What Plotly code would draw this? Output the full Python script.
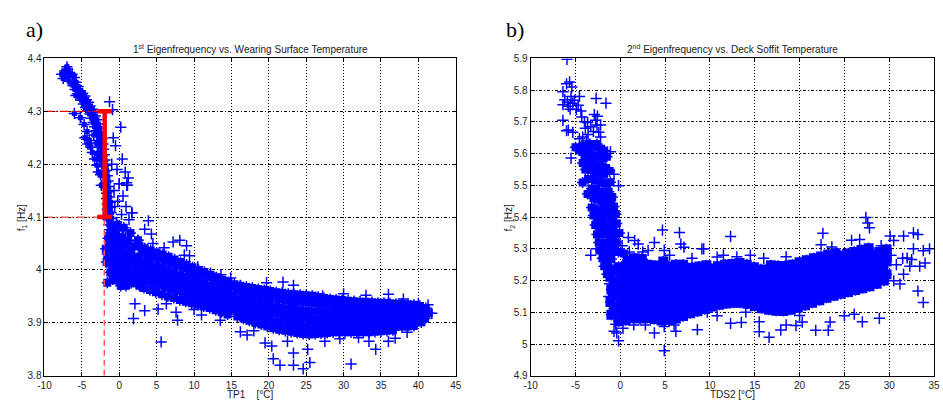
import plotly.graph_objects as go

# ---------------- data ----------------
# Panel a: 1st eigenfrequency f1 [Hz] vs. wearing surface temperature TP1 [°C]
a_branch = [(-7.7,4.370),(-7.3,4.376),(-6.9,4.380),(-6.6,4.372),(-7.1,4.366),(-7.5,4.362),(-6.3,4.370),(-6.0,4.364),
(-6.7,4.357),(-7.0,4.384),(-5.8,4.355),(-6.2,4.349),(-5.5,4.347),(-5.9,4.341),(-5.2,4.339),(-5.6,4.333),(-4.9,4.334),
(-5.3,4.327),(-4.6,4.329),(-5.0,4.321),(-4.4,4.322),(-4.8,4.314),(-4.1,4.317),(-4.5,4.307),(-3.9,4.310),(-4.2,4.301),
(-3.6,4.304),(-3.9,4.295),(-3.4,4.298),(-3.7,4.287),(-3.2,4.291),(-3.5,4.279),(-3.0,4.284),(-3.3,4.271),(-2.8,4.276),
(-3.1,4.263),(-2.6,4.268),(-2.9,4.255),(-2.5,4.258),(-2.7,4.245),(-2.3,4.248),(-2.6,4.235),(-2.2,4.238),(-2.4,4.225),
(-2.1,4.228),(-2.3,4.215),(-2.0,4.218),(-2.2,4.205),(-1.9,4.208),(-2.1,4.195),(-1.8,4.198),(-2.0,4.185),(-1.7,4.188),
(-1.9,4.175),(-1.6,4.178),(-1.8,4.165),(-1.5,4.168),(-1.8,4.155),(-1.5,4.158),(-1.7,4.145),(-1.4,4.148),(-1.7,4.135),
(-1.3,4.138),(-1.6,4.125),(-1.2,4.128),(-1.6,4.115),(-1.2,4.118),(-1.5,4.105),(-1.1,4.108),(-1.5,4.095),(-1.0,4.098),
(-1.4,4.085),(-0.9,4.088),(-1.3,4.076),
(-5.2,4.288),(-4.7,4.275),(-4.3,4.262),(-4.6,4.250),(-4.0,4.245),(-3.8,4.232),(-4.2,4.238),(-3.6,4.222),(-3.3,4.210),
(-3.0,4.198),(-2.8,4.185),(-2.9,4.220),(-6.0,4.296),(-5.8,4.330),(-3.4,4.255),(-3.0,4.240),(-2.6,4.210),(-2.5,4.180),
(-2.4,4.160)]

a_scatter = [(-1.3,4.318),(-0.9,4.303),(0.2,4.270),(-0.5,4.235),(0.4,4.210),(1.2,4.174),(1.1,4.160),(0.8,4.185),(0.5,4.140),
(1.7,4.108),(-0.3,4.190),(0.0,4.163),(1.0,4.165),(-0.8,4.250),(-1.0,4.200),(-0.7,4.150),(-0.6,4.120),(-0.2,4.130),
(0.3,4.105),(-0.4,4.090),(0.9,4.120),(1.3,4.095)]

a_mid = [(-1.2,4.070),(-0.8,4.075),(-0.4,4.068),(-1.5,4.060),(-1.0,4.055),(-0.5,4.050),(0.0,4.058),(0.4,4.062),
(-1.3,4.045),(-0.8,4.040),(-0.2,4.038),(0.3,4.042),(0.8,4.048),(1.2,4.055),(-1.6,4.030),(-1.1,4.025),(-0.5,4.022),
(0.1,4.025),(0.6,4.028),(1.1,4.032),(1.6,4.038),(-1.4,4.012),(-0.9,4.008),(-0.3,4.010),(0.3,4.012),(0.9,4.015),
(1.5,4.018),(2.1,4.022),(-1.2,3.995),(-0.6,3.993),(0.0,3.995),(0.6,3.998),(1.2,4.000),(1.8,4.003),(2.4,4.008),
(-0.9,3.982),(-0.3,3.980),(0.4,3.984),(1.0,3.985),(1.6,3.988),(2.2,3.990),(-0.2,4.085),(0.6,4.080),(1.5,4.070),
(2.0,4.045),(2.5,4.056),(1.9,4.025),(0.9,3.970),(1.6,3.975),(2.3,3.975),(0.2,3.970),(-1.8,4.040),(-1.7,4.015),
(-1.6,3.976)]

a_core = [
(2.7,4.046),(3.0,4.031),(2.5,4.019),(2.9,4.006),(2.6,3.995),(3.0,3.983),(2.7,3.970),
(3.4,4.041),(3.8,4.027),(3.3,4.015),(3.7,4.003),(3.4,3.990),(3.8,3.978),(3.3,3.966),
(4.2,4.037),(4.6,4.024),(4.1,4.012),(4.4,3.999),(4.2,3.987),(4.6,3.974),(4.1,3.962),
(5.0,4.033),(5.4,4.020),(4.9,4.008),(5.2,3.996),(5.0,3.984),(5.4,3.971),(4.9,3.958),
(5.8,4.029),(6.2,4.016),(5.7,4.004),(6.0,3.992),(5.8,3.980),(6.2,3.967),(5.7,3.954),
(6.6,4.025),(7.0,4.012),(6.5,4.000),(6.8,3.988),(6.6,3.976),(7.0,3.963),(6.5,3.950),
(7.4,4.020),(7.8,4.008),(7.3,3.996),(7.6,3.984),(7.4,3.972),(7.8,3.960),(7.3,3.947),
(8.2,4.015),(8.6,4.003),(8.1,3.991),(8.4,3.979),(8.2,3.967),(8.6,3.955),(8.1,3.943),
(9.0,4.010),(9.4,3.998),(8.9,3.987),(9.2,3.975),(9.0,3.963),(9.4,3.951),(8.9,3.940),
(9.8,4.005),(10.2,3.994),(9.7,3.983),(10.0,3.971),(9.8,3.959),(10.2,3.948),(9.7,3.937),
(10.6,4.000),(11.0,3.990),(10.5,3.979),(10.8,3.967),(10.6,3.956),(11.0,3.945),(10.5,3.934),
(11.4,3.996),(11.8,3.986),(11.3,3.975),(11.6,3.963),(11.4,3.952),(11.8,3.941),(11.3,3.931),
(12.2,3.991),(12.6,3.981),(12.1,3.970),(12.4,3.959),(12.2,3.948),(12.6,3.938),(12.1,3.928),
(13.0,3.986),(13.4,3.976),(12.9,3.966),(13.2,3.955),(13.0,3.944),(13.4,3.934),(12.9,3.924),
(13.8,3.981),(14.2,3.971),(13.7,3.961),(14.0,3.951),(13.8,3.940),(14.2,3.930),(13.7,3.920),
(14.6,3.977),(15.0,3.967),(14.5,3.957),(14.8,3.947),(14.6,3.936),(15.0,3.926),(14.5,3.916),
(15.4,3.973),(15.8,3.961),(15.3,3.949),(15.6,3.937),(15.4,3.925),(15.8,3.912),
(16.2,3.970),(16.6,3.958),(16.1,3.946),(16.4,3.934),(16.2,3.921),(16.6,3.908),
(17.0,3.968),(17.4,3.955),(16.9,3.943),(17.2,3.931),(17.0,3.917),(17.4,3.904),
(17.8,3.966),(18.2,3.953),(17.7,3.941),(18.0,3.928),(17.8,3.914),(18.2,3.900),
(18.6,3.964),(19.0,3.951),(18.5,3.938),(18.8,3.925),(18.6,3.911),(19.0,3.897),
(19.4,3.962),(19.8,3.949),(19.3,3.936),(19.6,3.922),(19.4,3.908),(19.8,3.893),
(20.2,3.960),(20.6,3.947),(20.1,3.933),(20.4,3.919),(20.2,3.905),(20.6,3.890),
(21.0,3.958),(21.4,3.945),(20.9,3.931),(21.2,3.917),(21.0,3.902),(21.4,3.887),
(21.8,3.957),(22.2,3.943),(21.7,3.929),(22.0,3.915),(21.8,3.900),(22.2,3.885),
(22.6,3.955),(23.0,3.941),(22.5,3.927),(22.8,3.913),(22.6,3.898),(23.0,3.883),
(23.4,3.954),(23.8,3.940),(23.3,3.926),(23.6,3.911),(23.4,3.896),(23.8,3.881),
(24.2,3.953),(24.6,3.939),(24.1,3.924),(24.4,3.909),(24.2,3.894),(24.6,3.879),
(25.0,3.952),(25.4,3.938),(24.9,3.923),(25.2,3.908),(25.0,3.893),(25.4,3.878),
(25.8,3.951),(26.2,3.937),(25.7,3.922),(26.0,3.907),(25.8,3.892),(26.2,3.879),
(26.6,3.949),(27.0,3.935),(26.5,3.921),(26.8,3.906),(26.6,3.892),(27.0,3.880),
(27.4,3.947),(27.8,3.934),(27.3,3.920),(27.6,3.906),(27.4,3.892),(27.8,3.881),
(28.2,3.945),(28.6,3.932),(28.1,3.919),(28.4,3.905),(28.2,3.892),(28.6,3.882),
(29.0,3.944),(29.4,3.931),(28.9,3.918),(29.2,3.905),(29.0,3.892),(29.4,3.882),
(29.8,3.943),(30.2,3.930),(29.7,3.917),(30.0,3.904),(29.8,3.892),(30.2,3.882),
(30.6,3.942),(31.0,3.929),(30.5,3.917),(30.8,3.904),(30.6,3.892),(31.0,3.882),
(31.4,3.941),(31.8,3.928),(31.3,3.916),(31.6,3.904),(31.4,3.892),(31.8,3.882),
(32.2,3.940),(32.6,3.928),(32.1,3.916),(32.4,3.904),(32.2,3.892),(32.6,3.882),
(33.0,3.940),(33.4,3.927),(32.9,3.915),(33.2,3.903),(33.0,3.891),(33.4,3.882),
(33.8,3.939),(34.2,3.927),(33.7,3.915),(34.0,3.903),(33.8,3.891),(34.2,3.883),
(34.6,3.938),(35.0,3.926),(34.5,3.914),(34.8,3.903),(34.6,3.892),(35.0,3.884),
(35.4,3.938),(35.8,3.926),(35.3,3.914),(35.6,3.903),(35.4,3.892),(35.8,3.885),
(36.2,3.937),(36.6,3.925),(36.1,3.914),(36.4,3.903),(36.2,3.892),(36.6,3.886),
(37.0,3.936),(37.4,3.925),(36.9,3.914),(37.2,3.903),(37.0,3.893),
(37.8,3.936),(38.2,3.925),(37.7,3.914),(38.0,3.903),(37.8,3.893),
(38.6,3.935),(39.0,3.924),(38.5,3.913),(38.8,3.902),(38.6,3.893),
(39.4,3.934),(39.8,3.923),(39.3,3.912),(39.6,3.902),(39.4,3.894),
(40.2,3.932),(40.6,3.921),(40.1,3.911),(40.4,3.901),
(41.0,3.928),(41.4,3.918),(40.9,3.908)]

a_out = [(5.6,3.864),(1.9,3.908),(7.8,3.905),(20.6,3.832),(21.5,3.820),(23.3,3.820),(24.6,3.813),(25.5,3.825),
(31.0,3.822),(23.3,3.843),(25.2,3.850),(19.5,3.862),(20.4,3.856),(16.2,3.883),(17.1,3.877),(19.7,3.976),
(21.9,3.977),(23.3,3.971),(16.2,3.971),(14.9,3.985),(13.6,3.991),(36.0,3.954),(40.0,3.937),(41.3,3.934),
(41.8,3.918),(33.4,3.865),(34.3,3.850),(36.0,3.865),(36.9,3.871),(26.3,3.948),(27.2,3.951),(28.5,3.942),
(3.9,4.093),(3.4,4.077),(1.7,4.108),(1.0,4.160),(0.0,4.163),(2.5,4.056),(4.3,4.068),(7.2,4.053),(8.1,4.056),
(9.0,4.046),(8.7,4.028),(9.4,4.027),(10.5,4.006),(12.2,3.994),(2.1,3.936),(3.4,3.923),(5.2,3.926),(7.6,3.920),
(6.3,3.936),(11.0,3.915),(13.5,3.905),(18.0,3.885),(22.5,3.865),(27.5,3.865),(29.5,3.870),(32.0,3.872),
(38.5,3.882),(30.0,3.955),(33.0,3.952),(38.0,3.945),(10.0,3.925),(4.5,4.050),(6.0,4.042)]

# highlighted frequency range in panel a
range_T = -2.0
range_f = [4.1, 4.3]
cap_T = [-2.95, -0.95]

# Panel b: 2nd eigenfrequency f2 [Hz] vs. deck soffit temperature TDS2 [°C]
b_top = [(-5.95,5.897),(-6.0,5.820),(-5.66,5.826),(-5.4,5.810),(-6.4,5.795),(-6.2,5.770),(-5.9,5.762),(-6.4,5.754),
(-5.8,5.749),(-5.3,5.759),(-5.6,5.740),(-4.9,5.739),(-4.56,5.780),(-4.4,5.734),(-5.5,5.780),(-5.1,5.768),
(-4.7,5.752),(-2.7,5.774),(-1.6,5.759),(-6.4,5.705),(-5.8,5.674),
(-6.0,5.672),(-5.3,5.667),(-4.0,5.700),(-3.65,5.698),(-2.9,5.723),(-2.55,5.718),(-2.75,5.705),(-3.3,5.685),
(-4.3,5.715),(-3.9,5.680),(-2.4,5.667),(-2.2,5.652),(-4.56,5.647),(-4.2,5.652),(-3.6,5.660),(-3.0,5.670),
(-2.6,5.690),(-3.8,5.640),(-2.2,5.690),(-5.5,5.586),(-1.1,5.606),(-0.7,5.535),(-0.2,5.499),(-3.3,5.280),
(-2.7,5.300),(0.2,5.310),(1.0,5.290)]

b_branch = [
(-5.0,5.620),(-4.6,5.610),(-4.2,5.625),(-3.8,5.618),(-3.4,5.630),(-3.0,5.620),(-2.6,5.630),
(-2.2,5.615),(-1.8,5.610),(-4.0,5.595),(-3.5,5.600),(-3.0,5.590),(-2.5,5.595),(-2.0,5.585),
(-1.5,5.590),(-4.2,5.570),(-3.6,5.575),(-3.1,5.570),(-2.6,5.565),(-2.1,5.560),(-1.6,5.555),(-3.9,5.550),
(-3.3,5.548),(-2.8,5.545),(-2.3,5.540),(-1.8,5.535),(-1.2,5.545),
(-4.2,5.509),(-3.6,5.520),(-3.1,5.520),(-2.6,5.515),(-2.1,5.510),(-1.6,5.505),(-1.1,5.510),
(-3.65,5.473),(-3.2,5.490),(-2.8,5.485),(-2.3,5.480),(-1.8,5.475),(-1.3,5.480),(-0.9,5.463),(-3.0,5.460),
(-2.5,5.455),(-2.0,5.450),(-1.5,5.450),(-1.0,5.440),(-0.7,5.433),(-3.2,5.430),(-2.7,5.425),(-2.2,5.420),
(-1.7,5.425),(-1.2,5.420),(-3.0,5.405),(-2.5,5.400),(-2.0,5.395),(-1.5,5.400),(-1.0,5.395),(-0.5,5.410),
(-2.8,5.375),(-2.3,5.370),(-1.8,5.372),(-1.3,5.368),(-0.8,5.370),(-0.4,5.380),(-2.6,5.345),(-2.1,5.350),
(-1.6,5.345),(-1.1,5.340),(-0.6,5.345),(-0.1,5.350),(-2.4,5.320),(-1.9,5.318),(-1.4,5.315),
(-0.9,5.318),(-0.4,5.320),(-2.2,5.295),(-1.7,5.290),(-1.2,5.292),(-0.7,5.295),(-0.2,5.290),
(0.4,5.285),(-2.0,5.270),(-1.5,5.265),(-1.0,5.268),(-1.8,5.245),(-1.3,5.240),
(-1.5,5.220)]

b_core = [
(-1.0,5.092),(-0.7,5.112),(-1.1,5.132),(-0.7,5.152),(-1.0,5.172),(-0.7,5.192),(-1.1,5.212),(-0.8,5.232),
(-0.2,5.072),(0.1,5.093),(-0.3,5.114),(0.1,5.135),(-0.2,5.156),(0.1,5.177),(-0.3,5.198),(0.1,5.219),(-0.2,5.242),
(0.6,5.075),(0.9,5.096),(0.5,5.117),(0.9,5.138),(0.6,5.159),(0.9,5.180),(0.5,5.201),(0.9,5.222),(0.6,5.245),(0.8,5.262),
(1.4,5.082),(1.7,5.103),(1.3,5.124),(1.7,5.145),(1.4,5.166),(1.7,5.187),(1.3,5.208),(1.7,5.229),(1.4,5.250),(1.6,5.270),
(2.2,5.080),(2.5,5.101),(2.1,5.122),(2.5,5.143),(2.2,5.164),(2.5,5.185),(2.1,5.206),(2.5,5.227),(2.2,5.248),(2.4,5.268),
(3.0,5.082),(3.3,5.103),(2.9,5.124),(3.3,5.145),(3.0,5.166),(3.3,5.187),(2.9,5.208),(3.3,5.229),(3.0,5.250),
(3.8,5.079),(4.1,5.100),(3.7,5.121),(4.1,5.142),(3.8,5.163),(4.1,5.184),(3.7,5.205),(4.1,5.226),(3.8,5.247),
(4.6,5.074),(4.9,5.095),(4.5,5.116),(4.9,5.137),(4.6,5.158),(4.9,5.179),(4.5,5.200),(4.9,5.221),(4.6,5.242),(4.8,5.260),
(5.4,5.076),(5.7,5.097),(5.3,5.118),(5.7,5.139),(5.4,5.160),(5.7,5.181),(5.3,5.202),(5.7,5.223),(5.4,5.244),
(6.2,5.080),(6.5,5.101),(6.1,5.122),(6.5,5.143),(6.2,5.164),(6.5,5.185),(6.1,5.206),(6.5,5.227),(6.2,5.250),
(7.0,5.088),(7.3,5.108),(6.9,5.128),(7.3,5.148),(7.0,5.168),(7.3,5.188),(6.9,5.208),(7.3,5.228),(7.0,5.250),
(7.8,5.097),(8.1,5.117),(7.7,5.137),(8.1,5.157),(7.8,5.177),(8.1,5.197),(7.7,5.217),(8.0,5.240),
(8.6,5.103),(8.9,5.123),(8.5,5.143),(8.9,5.163),(8.6,5.183),(8.9,5.203),(8.5,5.223),(8.8,5.244),
(9.4,5.110),(9.7,5.130),(9.3,5.150),(9.7,5.170),(9.4,5.190),(9.7,5.210),(9.3,5.230),(9.6,5.248),
(10.2,5.118),(10.5,5.138),(10.1,5.158),(10.5,5.178),(10.2,5.198),(10.5,5.218),(10.1,5.238),
(11.0,5.124),(11.3,5.144),(10.9,5.164),(11.3,5.184),(11.0,5.204),(11.3,5.224),(10.9,5.245),
(11.8,5.128),(12.1,5.148),(11.7,5.168),(12.1,5.188),(11.8,5.208),(12.1,5.228),(11.7,5.250),
(12.6,5.130),(12.9,5.150),(12.5,5.170),(12.9,5.190),(12.6,5.210),(12.9,5.230),(12.5,5.252),
(13.4,5.130),(13.7,5.150),(13.3,5.170),(13.7,5.190),(13.4,5.210),(13.7,5.230),(13.3,5.255),
(14.2,5.127),(14.5,5.147),(14.1,5.167),(14.5,5.187),(14.2,5.207),(14.5,5.227),(14.1,5.250),
(15.0,5.120),(15.3,5.140),(14.9,5.160),(15.3,5.180),(15.0,5.200),(15.3,5.220),(14.9,5.242),
(15.8,5.113),(16.1,5.133),(15.7,5.153),(16.1,5.173),(15.8,5.193),(16.1,5.213),(15.7,5.235),
(16.6,5.108),(16.9,5.128),(16.5,5.148),(16.9,5.168),(16.6,5.188),(16.9,5.208),(16.5,5.230),(16.8,5.248),
(17.4,5.105),(17.7,5.125),(17.3,5.145),(17.7,5.165),(17.4,5.185),(17.7,5.205),(17.3,5.225),(17.6,5.246),
(18.2,5.104),(18.5,5.124),(18.1,5.144),(18.5,5.164),(18.2,5.184),(18.5,5.204),(18.1,5.224),(18.4,5.246),
(19.0,5.108),(19.3,5.128),(18.9,5.148),(19.3,5.168),(19.0,5.188),(19.3,5.208),(18.9,5.228),(19.2,5.250),
(19.8,5.115),(20.1,5.135),(19.7,5.155),(20.1,5.175),(19.8,5.195),(20.1,5.215),(19.7,5.235),(20.0,5.258),
(20.6,5.122),(20.9,5.142),(20.5,5.162),(20.9,5.182),(20.6,5.202),(20.9,5.222),(20.5,5.242),(20.8,5.264),
(21.4,5.130),(21.7,5.150),(21.3,5.170),(21.7,5.190),(21.4,5.210),(21.7,5.230),(21.3,5.250),(21.6,5.270),
(22.2,5.138),(22.5,5.158),(22.1,5.178),(22.5,5.198),(22.2,5.218),(22.5,5.238),(22.1,5.258),(22.4,5.276),
(23.0,5.146),(23.3,5.166),(22.9,5.186),(23.3,5.206),(23.0,5.226),(23.3,5.246),(22.9,5.266),(23.2,5.282),
(23.8,5.152),(24.1,5.172),(23.7,5.192),(24.1,5.212),(23.8,5.232),(24.1,5.252),(23.7,5.272),(24.0,5.286),
(24.6,5.158),(24.9,5.178),(24.5,5.198),(24.9,5.218),(24.6,5.238),(24.9,5.258),(24.5,5.278),
(25.4,5.164),(25.7,5.184),(25.3,5.204),(25.7,5.224),(25.4,5.244),(25.7,5.264),(25.3,5.284),
(26.2,5.170),(26.5,5.190),(26.1,5.210),(26.5,5.230),(26.2,5.250),(26.5,5.270),(26.1,5.290),
(27.0,5.176),(27.3,5.196),(26.9,5.216),(27.3,5.236),(27.0,5.256),(27.3,5.276),(26.9,5.296),
(27.8,5.182),(28.1,5.202),(27.7,5.222),(28.1,5.242),(27.8,5.262),(28.1,5.282),(27.7,5.302),
(28.6,5.190),(28.9,5.210),(28.5,5.230),(28.9,5.250),(28.6,5.270),(28.9,5.290),
(29.4,5.200),(29.7,5.220),(29.3,5.240),(29.7,5.260),(29.4,5.280),(29.7,5.298)]

b_out = [(4.7,5.359),(6.6,5.351),(6.75,5.315),(7.1,5.305),(3.8,5.320),(4.9,5.295),(9.1,5.300),(3.1,5.295),
(2.0,5.315),(0.9,5.336),(1.6,5.326),(-0.4,5.035),(-0.2,5.010),(4.9,4.979),(3.8,5.035),(4.9,5.055),(6.2,5.040),
(8.6,5.045),(-0.5,5.062),(-0.7,5.040),(12.3,5.339),(9.3,5.300),(10.8,5.274),(14.5,5.280),(12.3,5.065),
(13.5,5.068),(15.5,5.070),(15.5,5.039),(16.6,5.021),(10.8,5.089),(9.7,5.100),(17.9,5.044),(18.5,5.060),
(19.6,5.058),(20.3,5.069),(21.8,5.043),(22.6,5.349),(22.4,5.313),(23.6,5.306),(25.8,5.327),(26.7,5.329),
(23.4,5.069),(23.2,5.043),(25.0,5.089),(26.1,5.094),(27.0,5.070),(28.9,5.081),(27.4,5.399),(27.6,5.381),
(27.8,5.366),(30.1,5.340),(30.5,5.326),(29.1,5.310),(31.6,5.340),(32.7,5.350),(33.2,5.345),(33.8,5.294),
(32.7,5.300),(32.0,5.271),(32.3,5.245),(33.4,5.245),(31.6,5.220),(33.8,5.131),(33.2,5.167),(31.2,5.189),
(30.5,5.199),(32.5,5.266),(34.5,5.300),(34.0,5.255),(30.8,5.250),(31.5,5.270),(30.2,5.280),(11.5,5.280),
(13.0,5.275),(16.0,5.270),(18.5,5.275),(8.0,5.270),(5.5,5.280),(2.5,5.290),(20.0,5.090),(14.0,5.100),
(6.0,5.060),(1.5,5.060),(0.3,5.050),(2.8,5.060),(-1.3,5.150),(-1.2,5.190)]

# axis ticks
a_xticks = [-10, -5, 0, 5, 10, 15, 20, 25, 30, 35, 40, 45]
a_yticks = [3.8, 3.9, 4.0, 4.1, 4.2, 4.3, 4.4]
a_ytext = ["3.8", "3.9", "4", "4.1", "4.2", "4.3", "4.4"]
b_xticks = [-10, -5, 0, 5, 10, 15, 20, 25, 30, 35]
b_yticks = [4.9, 5.0, 5.1, 5.2, 5.3, 5.4, 5.5, 5.6, 5.7, 5.8, 5.9]
b_ytext = ["4.9", "5", "5.1", "5.2", "5.3", "5.4", "5.5", "5.6", "5.7", "5.8", "5.9"]

# ---------------- figure ----------------
W, H = 943, 406
BLUE = "#0000ff"
RED = "#ff0000"
FONT = "Liberation Sans, Arial, sans-serif"

def px_x(p):
    return p / W

def px_y(p):
    return 1 - p / H

fig = go.Figure()

def scatter(pts, xa, ya, fill=0):
    xs = [p[0] for p in pts]
    ys = [p[1] for p in pts]
    if fill:
        # solid underlay so the dense cloud reads as one blue mass
        fig.add_trace(go.Scatter(
            x=xs, y=ys, mode="markers", xaxis=xa, yaxis=ya, showlegend=False,
            marker=dict(symbol="square", size=fill, color=BLUE, line=dict(width=0)),
            hoverinfo="skip"))
    fig.add_trace(go.Scatter(
        x=xs, y=ys, mode="markers", xaxis=xa, yaxis=ya, showlegend=False,
        marker=dict(symbol="cross-thin", size=8, color=BLUE,
                    line=dict(color=BLUE, width=1.5)),
        hoverinfo="skip"))

scatter(a_core, "x", "y", 8)
scatter(a_mid, "x", "y", 8)
scatter(a_branch, "x", "y", 5)
scatter(a_scatter, "x", "y")
scatter(a_out, "x", "y")
scatter(b_core, "x2", "y2", 10)
scatter(b_branch, "x2", "y2", 8)
scatter(b_top, "x2", "y2")
scatter(b_out, "x2", "y2")

# red annotation of the frequency range (panel a)
def red_line(xs, ys, width, dash, color=RED):
    fig.add_trace(go.Scatter(x=xs, y=ys, mode="lines", xaxis="x", yaxis="y",
                             showlegend=False, hoverinfo="skip",
                             line=dict(color=color, width=width, dash=dash)))

red_line([-10, cap_T[0]], [range_f[1], range_f[1]], 1.2, "8px,3px,2px,3px")
red_line([-10, cap_T[0]], [range_f[0], range_f[0]], 1.2, "8px,3px,2px,3px", "#ff5050")
red_line([range_T, range_T], [3.8, range_f[0]], 1.5, "6px,4px", "#ff5a5a")
red_line([range_T + 0.05, range_T + 0.05], range_f, 4.5, "solid")
red_line(cap_T, [range_f[1], range_f[1]], 4.5, "solid")
red_line(cap_T, [range_f[0], range_f[0]], 4.5, "solid")

axis_common = dict(
    showline=True, linecolor="black", linewidth=1, mirror="ticks",
    ticks="inside", ticklen=4, tickcolor="black", tickwidth=1,
    showgrid=True, gridcolor="black", gridwidth=1, zeroline=False,
    tickfont=dict(family=FONT, size=10, color="#262626"),
)
ydom = [px_y(381), px_y(54)]

fig.update_layout(
    width=W, height=H, margin=dict(l=0, r=0, t=0, b=0),
    paper_bgcolor="white", plot_bgcolor="white",
    font=dict(family=FONT, size=10, color="#1a1a1a"),
    xaxis=dict(domain=[px_x(38), px_x(455)], range=[-10, 45], anchor="y",
               tickvals=a_xticks, ticktext=[str(v) for v in a_xticks],
               griddash="1px,2px", **axis_common),
    yaxis=dict(domain=ydom, range=[3.8, 4.4], anchor="x",
               tickvals=a_yticks, ticktext=a_ytext,
               griddash="3px,2px,1px,2px", **axis_common),
    xaxis2=dict(domain=[px_x(531), px_x(940)], range=[-10, 35], anchor="y2",
                tickvals=b_xticks, ticktext=[str(v) for v in b_xticks],
                griddash="1px,2px", **axis_common),
    yaxis2=dict(domain=ydom, range=[4.9, 5.9], anchor="x2",
                tickvals=b_yticks, ticktext=b_ytext,
                griddash="3px,2px,1px,2px", **axis_common),
)

def note(text, x, y, size, family=FONT, angle=0, color="#1a1a1a", xanchor="center"):
    fig.add_annotation(text=text, x=px_x(x), y=px_y(y), xref="paper", yref="paper",
                       showarrow=False, xanchor=xanchor, yanchor="middle",
                       textangle=angle, font=dict(family=family, size=size, color=color))

SERIF = "Liberation Serif, Times New Roman, serif"
note("a)", 17, 24, 22, SERIF, color="black", xanchor="left")
note("b)", 504, 24, 22, SERIF, color="black", xanchor="left")
note("1<sup>st</sup> Eigenfrequency vs. Wearing Surface Temperature", 246.5, 44, 10)
note("2<sup>nd</sup> Eigenfrequency vs. Deck Soffit Temperature", 735.5, 44, 10)
note("TP1&nbsp;&nbsp;&nbsp;&nbsp;[°C]", 246.5, 400, 10)
note("TDS2 [°C]", 736, 400, 10)
note("f<sub>1</sub> [Hz]", 15, 218, 10, angle=-90)
note("f<sub>2</sub> [Hz]", 509, 218, 10, angle=-90)

fig.write_html("out.html")
